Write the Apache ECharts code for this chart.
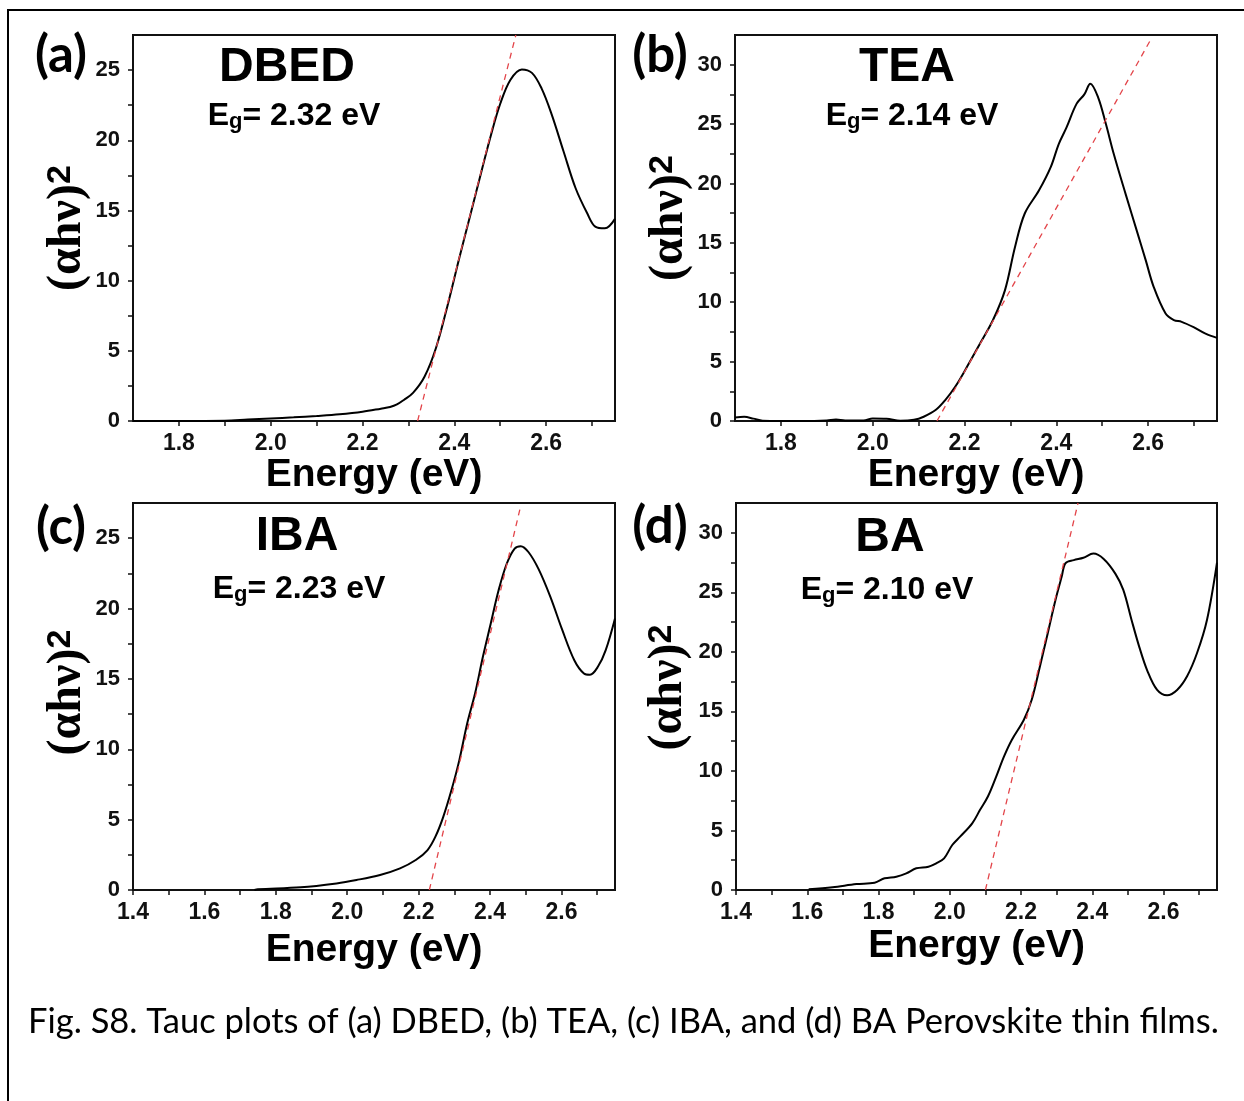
<!DOCTYPE html>
<html>
<head>
<meta charset="utf-8">
<title>Tauc plots</title>
<script src="https://cdn.jsdelivr.net/npm/echarts/dist/echarts.min.js"></script>
<style>
  html, body { margin: 0; padding: 0; background: #fff; }
  #chart { width: 1244px; height: 1101px; }
</style>
</head>
<body>
<div id="chart"></div>
<script>
// (a) DBED
const energyA = [1.70, 1.80, 1.90, 1.95, 2.00, 2.05, 2.10, 2.15, 2.20, 2.24, 2.26, 2.275, 2.29, 2.31, 2.335, 2.36, 2.385, 2.41, 2.435, 2.46, 2.48, 2.50, 2.522, 2.547, 2.569, 2.59, 2.612, 2.638, 2.664, 2.69, 2.707, 2.728, 2.75]
const taucA = [0, 0, 0.02, 0.1, 0.18, 0.26, 0.36, 0.48, 0.66, 0.88, 1.0, 1.18, 1.5, 2.0, 3.15, 5.2, 8.2, 11.5, 14.7, 17.9, 20.4, 22.6, 24.3, 25.05, 24.8, 23.7, 21.85, 19.2, 16.6, 14.76, 13.85, 13.73, 14.4]
const fitEnergyA = [2.32, 2.534]
const fitTaucA = [0, 27.5]

// (b) TEA
const energyB = [1.70, 1.72, 1.74, 1.76, 1.80, 1.85, 1.90, 1.92, 1.94, 1.98, 2.00, 2.03, 2.06, 2.09, 2.111, 2.137, 2.158, 2.18, 2.206, 2.232, 2.262, 2.288, 2.31, 2.331, 2.362, 2.388, 2.405, 2.422, 2.444, 2.461, 2.474, 2.491, 2.508, 2.525, 2.551, 2.577, 2.595, 2.612, 2.638, 2.656, 2.673, 2.699, 2.725, 2.75]
const taucB = [0.3, 0.35, 0.2, 0.02, 0, 0, 0.05, 0.12, 0.05, 0.05, 0.2, 0.18, 0.02, 0.1, 0.36, 0.92, 1.76, 2.9, 4.6, 6.4, 8.5, 11.0, 14.65, 17.45, 19.4, 21.4, 23.3, 24.7, 26.7, 27.5, 28.4, 27.25, 25.0, 22.5, 19.1, 15.8, 13.5, 11.3, 9.05, 8.5, 8.35, 7.9, 7.35, 7.0]
const fitEnergyB = [2.14, 2.604]
const fitTaucB = [0, 32]

// (c) IBA
const energyC = [1.74, 1.75, 1.87, 1.97, 2.026, 2.092, 2.148, 2.192, 2.225, 2.247, 2.269, 2.292, 2.314, 2.336, 2.358, 2.38, 2.402, 2.424, 2.447, 2.469, 2.486, 2.508, 2.536, 2.569, 2.602, 2.636, 2.663, 2.68, 2.702, 2.724, 2.75]
const taucC = [0, 0.05, 0.19, 0.47, 0.71, 1.07, 1.54, 2.13, 2.84, 3.79, 5.2, 7.1, 9.23, 11.83, 13.96, 16.57, 18.94, 21.3, 23.2, 24.26, 24.43, 24.0, 22.8, 20.83, 18.5, 16.33, 15.39, 15.3, 15.86, 17.05, 19.3]
const fitEnergyC = [2.23, 2.486]
const fitTaucC = [0, 27.3]

// (d) BA
const energyD = [1.604, 1.671, 1.738, 1.789, 1.817, 1.85, 1.878, 1.906, 1.94, 1.962, 1.984, 2.007, 2.029, 2.063, 2.085, 2.107, 2.13, 2.152, 2.174, 2.208, 2.23, 2.253, 2.275, 2.297, 2.314, 2.325, 2.348, 2.375, 2.403, 2.432, 2.465, 2.487, 2.51, 2.532, 2.554, 2.582, 2.61, 2.638, 2.666, 2.694, 2.722, 2.75]
const taucD = [0.06, 0.23, 0.5, 0.61, 0.98, 1.12, 1.4, 1.82, 1.96, 2.24, 2.66, 3.78, 4.48, 5.6, 6.73, 7.85, 9.5, 11.2, 12.6, 14.3, 15.97, 18.77, 21.57, 24.4, 26.3, 27.45, 27.7, 27.9, 28.25, 27.8, 26.55, 25.2, 22.7, 20.4, 18.45, 16.8, 16.35, 16.8, 17.95, 19.9, 22.7, 27.5]
const fitEnergyD = [2.10, 2.36]
const fitTaucD = [0, 32.5]

// ticks and labels
const xLabelsTop = [1.8, 2.0, 2.2, 2.4, 2.6]
const xTicksTop = [1.8, 1.9, 2.0, 2.1, 2.2, 2.3, 2.4, 2.5, 2.6, 2.7]
const xLabelsBottom = [1.4, 1.6, 1.8, 2.0, 2.2, 2.4, 2.6]
const xTicksBottom = [1.4, 1.5, 1.6, 1.7, 1.8, 1.9, 2.0, 2.1, 2.2, 2.3, 2.4, 2.5, 2.6, 2.7]
const yLabels25 = [0, 5, 10, 15, 20, 25]
const yTicks25 = [0, 2.5, 5, 7.5, 10, 12.5, 15, 17.5, 20, 22.5, 25]
const yLabels30 = [0, 5, 10, 15, 20, 25, 30]
const yTicks30 = [0, 2.5, 5, 7.5, 10, 12.5, 15, 17.5, 20, 22.5, 25, 27.5, 30]

const panelNames = ['DBED', 'TEA', 'IBA', 'BA']
const bandGaps = ['2.32', '2.14', '2.23', '2.10']
const panelTags = ['(a)', '(b)', '(c)', '(d)']

const SANS = 'Liberation Sans, Arial, sans-serif'
const SERIF = 'Liberation Serif, Times New Roman, serif'
const CAPTION = 'Lato, Carlito, Calibri, sans-serif'

// yGap / yShift place the rotated (αhν)² label the way the figure has it
const panels = [
  { grid: { left: 133, top: 35, width: 482, height: 386 }, xMin: 1.7, yMax: 27.5, xl: xLabelsTop, xt: xTicksTop, yl: yLabels25, yt: yTicks25, xGap: 29, yGap: 36, yShift: 0, x: energyA, y: taucA, fx: fitEnergyA, fy: fitTaucA },
  { grid: { left: 735, top: 35, width: 482, height: 386 }, xMin: 1.7, yMax: 32.5, xl: xLabelsTop, xt: xTicksTop, yl: yLabels30, yt: yTicks30, xGap: 35, yGap: 40, yShift: 20, x: energyB, y: taucB, fx: fitEnergyB, fy: fitTaucB },
  { grid: { left: 133, top: 503, width: 482, height: 387 }, xMin: 1.4, yMax: 27.5, xl: xLabelsBottom, xt: xTicksBottom, yl: yLabels25, yt: yTicks25, xGap: 41, yGap: 39, yShift: 8, x: energyC, y: taucC, fx: fitEnergyC, fy: fitTaucC },
  { grid: { left: 736, top: 503, width: 481, height: 387 }, xMin: 1.4, yMax: 32.5, xl: xLabelsBottom, xt: xTicksBottom, yl: yLabels30, yt: yTicks30, xGap: 37, yGap: 43, yShift: 18, x: energyD, y: taucD, fx: fitEnergyD, fy: fitTaucD }
]

const grids = []
const xAxes = []
const yAxes = []
const series = []
const texts = []

panels.forEach((p, i) => {
  grids.push(Object.assign({ show: true, borderColor: '#111', borderWidth: 2, containLabel: false }, p.grid))
  xAxes.push({
    type: 'value',
    gridIndex: i,
    min: p.xMin,
    max: 2.75,
    name: 'Energy (eV)',
    nameLocation: 'middle',
    nameGap: p.xGap,
    nameTextStyle: { fontSize: 39, fontWeight: 'bold', fontFamily: SANS, color: '#000' },
    axisLine: { show: true, onZero: false, lineStyle: { color: '#111', width: 2 } },
    axisTick: { show: true, inside: false, length: 5, customValues: p.xt, lineStyle: { color: '#111', width: 1.5 } },
    axisLabel: { customValues: p.xl, formatter: v => v.toFixed(1), fontSize: 23, fontWeight: 'bold', fontFamily: SANS, color: '#111', margin: 11 },
    splitLine: { show: false }
  })
  yAxes.push({
    type: 'value',
    gridIndex: i,
    min: 0,
    max: p.yMax,
    name: '{m|(αhν)}{s|2}',
    nameLocation: 'middle',
    nameRotate: 90,
    nameGap: p.yGap,
    nameTextStyle: {
      padding: [0, 0, 0, p.yShift],
      rich: {
        m: { fontSize: 48, fontWeight: 'bold', fontFamily: SERIF, color: '#000', lineHeight: 48 },
        s: { fontSize: 34, fontWeight: 'bold', fontFamily: SANS, color: '#000', verticalAlign: 'top', lineHeight: 32 }
      }
    },
    axisLine: { show: true, onZero: false, lineStyle: { color: '#111', width: 2 } },
    axisTick: { show: true, inside: false, length: 5, customValues: p.yt, lineStyle: { color: '#111', width: 1.5 } },
    axisLabel: { customValues: p.yl, fontSize: 22, fontWeight: 'bold', fontFamily: SANS, color: '#111', margin: 13 },
    splitLine: { show: false }
  })
  series.push({
    type: 'line',
    xAxisIndex: i,
    yAxisIndex: i,
    data: p.x.map((e, k) => [e, p.y[k]]),
    showSymbol: false,
    smooth: 0.35,
    lineStyle: { color: '#000', width: 2 },
    z: 3
  })
  series.push({
    type: 'line',
    xAxisIndex: i,
    yAxisIndex: i,
    data: p.fx.map((e, k) => [e, p.fy[k]]),
    showSymbol: false,
    lineStyle: { color: '#e3454a', width: 1.3, type: [6, 5] },
    z: 4
  })
})

// titles, band gap notes and panel tags
const titlePos = [[287, 68], [907, 68], [297, 537], [890, 538]]
const gapPos = [[294, 116], [912, 116], [299, 589], [887, 590]]
const tagPos = [[61, 56], [660, 56], [61, 528], [660, 527]]

panelNames.forEach((n, i) => {
  texts.push({
    type: 'text', x: titlePos[i][0], y: titlePos[i][1],
    style: { text: n, fontSize: 48, fontWeight: 'bold', fontFamily: SANS, fill: '#000', align: 'center', verticalAlign: 'middle' }
  })
  texts.push({
    type: 'text', x: gapPos[i][0], y: gapPos[i][1],
    style: {
      text: '{e|E}{g|g}{e|= ' + bandGaps[i] + ' eV}',
      align: 'center', verticalAlign: 'middle',
      rich: {
        e: { fontSize: 32, fontWeight: 'bold', fontFamily: SANS, fill: '#000', lineHeight: 34 },
        g: { fontSize: 22, fontWeight: 'bold', fontFamily: SANS, fill: '#000', verticalAlign: 'bottom', lineHeight: 18 }
      }
    }
  })
  texts.push({
    type: 'text', x: tagPos[i][0], y: tagPos[i][1],
    style: { text: panelTags[i], fontSize: 51, fontWeight: 'bold', fontFamily: CAPTION, fill: '#000', align: 'center', verticalAlign: 'middle' }
  })
})

texts.push({
  type: 'text', x: 28, y: 1022,
  style: { text: 'Fig. S8. Tauc plots of (a) DBED, (b) TEA, (c) IBA, and (d) BA Perovskite thin films.', fontSize: 34.5, fontFamily: CAPTION, fill: '#000', align: 'left', verticalAlign: 'middle' }
})

// outer frame (only top and left edges fall inside the picture)
texts.push({
  type: 'rect', shape: { x: 8, y: 10, width: 1260, height: 1120 },
  style: { fill: null, stroke: '#000', lineWidth: 2 }, z: 0
})

const chart = echarts.init(document.getElementById('chart'), null, { renderer: 'canvas' })
chart.setOption({
  backgroundColor: '#fff',
  animation: false,
  grid: grids,
  xAxis: xAxes,
  yAxis: yAxes,
  series: series,
  graphic: texts
})
</script>
</body>
</html>
